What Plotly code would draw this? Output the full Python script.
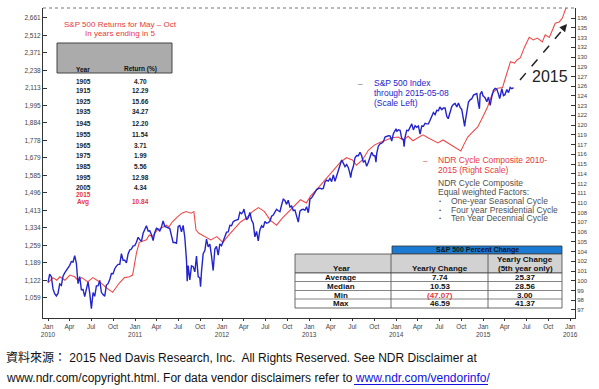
import plotly.graph_objects as go

# ---------------- DATA ----------------
spx_dates = [
"2010-01-01","2010-01-08","2010-01-15","2010-01-22","2010-01-29","2010-02-05","2010-02-12","2010-02-19","2010-02-26",
"2010-03-05","2010-03-12","2010-03-19","2010-03-26","2010-04-02","2010-04-09","2010-04-16","2010-04-23","2010-04-30",
"2010-05-07","2010-05-14","2010-05-21","2010-05-28","2010-06-04","2010-06-11","2010-06-18","2010-06-25","2010-07-02",
"2010-07-09","2010-07-16","2010-07-23","2010-07-30","2010-08-06","2010-08-13","2010-08-20","2010-08-27","2010-09-03",
"2010-09-10","2010-09-17","2010-09-24","2010-10-01","2010-10-08","2010-10-15","2010-10-22","2010-10-29","2010-11-05",
"2010-11-12","2010-11-19","2010-11-26","2010-12-03","2010-12-10","2010-12-17","2010-12-24","2010-12-31",
"2011-01-07","2011-01-14","2011-01-21","2011-01-28","2011-02-04","2011-02-11","2011-02-18","2011-02-25","2011-03-04",
"2011-03-11","2011-03-18","2011-03-25","2011-04-01","2011-04-08","2011-04-15","2011-04-22","2011-04-29","2011-05-06",
"2011-05-13","2011-05-20","2011-05-27","2011-06-03","2011-06-10","2011-06-17","2011-06-24","2011-07-01","2011-07-08",
"2011-07-15","2011-07-22","2011-07-29","2011-08-05","2011-08-08","2011-08-12","2011-08-19","2011-08-26","2011-09-02",
"2011-09-09","2011-09-16","2011-09-23","2011-09-30","2011-10-03","2011-10-07","2011-10-14","2011-10-21","2011-10-28",
"2011-11-04","2011-11-11","2011-11-18","2011-11-25","2011-12-02","2011-12-09","2011-12-16","2011-12-23","2011-12-30",
"2012-01-06","2012-01-13","2012-01-20","2012-01-27","2012-02-03","2012-02-10","2012-02-17","2012-02-24","2012-03-02",
"2012-03-09","2012-03-16","2012-03-23","2012-03-30","2012-04-02","2012-04-06","2012-04-13","2012-04-20","2012-04-27",
"2012-05-04","2012-05-11","2012-05-18","2012-05-25","2012-06-01","2012-06-08","2012-06-15","2012-06-22","2012-06-29",
"2012-07-06","2012-07-13","2012-07-20","2012-07-27","2012-08-03","2012-08-10","2012-08-17","2012-08-24","2012-08-31",
"2012-09-07","2012-09-14","2012-09-21","2012-09-28","2012-10-05","2012-10-12","2012-10-19","2012-10-26","2012-11-02",
"2012-11-09","2012-11-16","2012-11-23","2012-11-30","2012-12-07","2012-12-14","2012-12-21","2012-12-28","2012-12-31",
"2013-01-04","2013-01-11","2013-01-18","2013-01-25","2013-02-01","2013-02-08","2013-02-15","2013-02-22","2013-03-01",
"2013-03-08","2013-03-15","2013-03-22","2013-03-29","2013-04-05","2013-04-12","2013-04-19","2013-04-26","2013-05-03",
"2013-05-10","2013-05-17","2013-05-24","2013-05-31","2013-06-07","2013-06-14","2013-06-21","2013-06-24","2013-06-28",
"2013-07-05","2013-07-12","2013-07-19","2013-07-26","2013-08-02","2013-08-09","2013-08-16","2013-08-23","2013-08-30",
"2013-09-06","2013-09-13","2013-09-20","2013-09-27","2013-10-04","2013-10-08","2013-10-11","2013-10-18","2013-10-25",
"2013-11-01","2013-11-08","2013-11-15","2013-11-22","2013-11-29","2013-12-06","2013-12-13","2013-12-20","2013-12-27",
"2013-12-31",
"2014-01-03","2014-01-10","2014-01-17","2014-01-24","2014-01-31","2014-02-03","2014-02-07","2014-02-14","2014-02-21",
"2014-02-28","2014-03-07","2014-03-14","2014-03-21","2014-03-28","2014-04-04","2014-04-11","2014-04-18","2014-04-25",
"2014-05-02","2014-05-09","2014-05-16","2014-05-23","2014-05-30","2014-06-06","2014-06-13","2014-06-20","2014-06-27",
"2014-07-03","2014-07-11","2014-07-18","2014-07-25","2014-08-01","2014-08-07","2014-08-15","2014-08-22","2014-08-29",
"2014-09-05","2014-09-12","2014-09-19","2014-09-26","2014-10-03","2014-10-10","2014-10-15","2014-10-17","2014-10-24",
"2014-10-31","2014-11-07","2014-11-14","2014-11-21","2014-11-28","2014-12-05","2014-12-12","2014-12-16","2014-12-19",
"2014-12-26","2014-12-31",
"2015-01-02","2015-01-09","2015-01-16","2015-01-23","2015-01-30","2015-02-06","2015-02-13","2015-02-20","2015-02-27",
"2015-03-06","2015-03-11","2015-03-13","2015-03-20","2015-03-27","2015-04-02","2015-04-10","2015-04-17","2015-04-24",
"2015-05-01","2015-05-08"]
spx_values = [
1115,1145,1136,1091,1074,1066,1075,1109,1104,
1138,1150,1160,1167,1179,1194,1192,1217,1187,
1110,1136,1088,1089,1064,1092,1117,1076,1022,
1078,1065,1102,1102,1122,1079,1071,1065,1105,
1110,1125,1148,1147,1166,1176,1183,1183,1225,
1199,1199,1189,1224,1240,1244,1257,1258,
1272,1293,1283,1276,1310,1329,1343,1320,1321,
1304,1279,1314,1332,1328,1320,1337,1364,1340,
1338,1333,1331,1300,1271,1271,1268,1340,1344,
1316,1345,1292,1199,1119,1178,1124,1177,1174,
1154,1216,1136,1131,1099,1155,1225,1238,1285,
1253,1264,1216,1159,1244,1255,1219,1265,1258,
1278,1289,1315,1316,1345,1343,1361,1366,1370,
1371,1404,1397,1408,1419,1398,1370,1378,1403,
1369,1353,1295,1318,1278,1325,1343,1335,1362,
1354,1357,1363,1386,1391,1405,1418,1411,1407,
1438,1466,1460,1441,1461,1429,1433,1412,1414,
1380,1359,1409,1416,1418,1413,1430,1402,1426,
1466,1472,1486,1503,1513,1518,1520,1516,1518,
1551,1561,1556,1569,1553,1588,1555,1582,1614,
1634,1667,1650,1631,1643,1626,1593,1573,1606,
1632,1680,1692,1691,1710,1691,1655,1664,1633,
1655,1688,1710,1692,1690,1656,1703,1745,1759,
1762,1771,1798,1804,1806,1805,1775,1818,1841,
1848,
1831,1842,1839,1790,1783,1742,1797,1838,1836,
1859,1878,1841,1866,1857,1865,1815,1864,1863,
1881,1878,1878,1900,1924,1949,1936,1963,1961,
1985,1968,1978,1978,1925,1910,1955,1988,2003,
2008,1985,2011,1983,1968,1906,1862,1887,1965,
2018,2032,2040,2064,2068,2075,2003,1973,2071,
2089,2059,
2058,2045,2019,2051,1995,2055,2097,2110,2104,
2071,2040,2053,2108,2061,2067,2102,2081,2117,
2108,2116]

ndr_dates = [
"2010-01-01","2010-01-22","2010-02-07","2010-02-20","2010-03-13","2010-04-03","2010-04-23","2010-05-06","2010-05-23",
"2010-06-17","2010-07-08","2010-08-06","2010-09-04","2010-09-29","2010-10-28","2010-11-18","2010-12-09","2010-12-22",
"2011-01-07","2011-01-19","2011-02-18","2011-03-02","2011-03-15","2011-04-04","2011-04-25","2011-05-12","2011-05-24",
"2011-06-06","2011-06-27","2011-07-17","2011-08-03","2011-08-24","2011-09-05","2011-09-14","2011-09-26","2011-10-17",
"2011-11-15","2011-12-10","2012-01-05","2012-01-30","2012-02-24","2012-03-19","2012-04-13","2012-05-08","2012-06-02",
"2012-06-27","2012-07-22","2012-08-17","2012-09-11","2012-10-06","2012-10-31","2012-11-25","2012-12-20","2013-01-07",
"2013-02-01","2013-02-26","2013-03-23","2013-04-17","2013-05-12","2013-06-06","2013-07-01","2013-07-18","2013-08-12",
"2013-09-06","2013-10-01","2013-10-26","2013-11-20","2013-12-15","2014-01-09","2014-01-30","2014-02-20","2014-03-12",
"2014-04-02","2014-04-23","2014-05-14","2014-06-04","2014-06-25","2014-07-16","2014-08-06","2014-08-27","2014-09-17",
"2014-09-29","2014-10-12","2014-10-28","2014-11-18","2014-12-09","2014-12-30","2015-01-19","2015-02-09","2015-03-02",
"2015-03-23","2015-04-09","2015-04-25","2015-05-12","2015-05-24","2015-06-06","2015-06-23","2015-07-13","2015-07-30",
"2015-08-16","2015-09-06","2015-09-18","2015-10-05","2015-10-18","2015-10-30","2015-11-16","2015-11-29","2015-12-11",
"2015-12-28"]
ndr_values = [
100.1,100.7,100.4,100.8,100.4,101.0,100.8,100.4,100.7,
100.2,100.7,100.2,99.5,99.0,100.1,100.7,100.8,101.0,
103.6,104.9,105.2,105.8,105.6,106.4,106.7,107.0,106.8,
107.4,108.0,108.5,108.7,108.5,108.7,106.4,106.0,105.7,
105.2,105.6,104.9,105.8,106.6,107.4,107.9,108.7,109.2,
108.7,107.6,107.0,107.9,108.7,109.5,110.2,109.8,110.7,
111.5,112.4,113.4,114.3,115.1,115.7,115.4,114.7,115.4,
116.7,117.4,117.8,118.1,118.4,118.5,118.1,118.6,118.0,
118.4,118.8,118.4,118.0,117.7,118.1,117.7,117.3,116.9,
116.6,117.5,118.5,119.2,119.9,121.3,122.7,124.7,125.4,
125.5,127.3,129.3,129.1,129.6,129.9,131.5,133.0,132.6,
132.9,132.3,133.4,133.0,134.1,135.2,135.4,136.0,137.3,
138.5]

left_tick_labels = ["1,059","1,122","1,189","1,259","1,334","1,413","1,496","1,585","1,679",
                    "1,778","1,884","1,995","2,113","2,238","2,371","2,512","2,661"]
left_tick_values = [1059,1122,1189,1259,1334,1413,1496,1585,1679,1778,1884,1995,2113,2238,2371,2512,2661]
right_tick_labels = ["97","98","99","100","101","102","104","105","106","107","108","110","111","112","114",
                     "115","116","117","119","120","122","123","124","126","127","129","130","132","133","135","136"]

x_tick_dates = ["2010-01-01","2010-04-01","2010-07-01","2010-10-01","2011-01-01","2011-04-01","2011-07-01","2011-10-01",
                "2012-01-01","2012-04-01","2012-07-01","2012-10-01","2013-01-01","2013-04-01","2013-07-01","2013-10-01",
                "2014-01-01","2014-04-01","2014-07-01","2014-10-01","2015-01-01","2015-04-01","2015-07-01","2015-10-01",
                "2016-01-01"]
x_tick_labels = ["Jan<br>2010","Apr","Jul","Oct","Jan<br>2011","Apr","Jul","Oct","Jan<br>2012","Apr","Jul","Oct",
                 "Jan<br>2013","Apr","Jul","Oct","Jan<br>2014","Apr","Jul","Oct","Jan<br>2015","Apr","Jul","Oct",
                 "Jan<br>2016"]

may_oct_years = ["1905","1915","1925","1935","1945","1955","1965","1975","1985","1995","2005"]
may_oct_returns = ["4.70","12.29","15.66","34.27","12.20","11.54","3.71","1.99","5.56","12.98","4.34"]
avg_return = "10.84"

stat_names = ["Average","Median","Min","Max"]
stat_yearly = ["7.74","10.53","(47.07)","46.59"]
stat_fifth = ["25.37","28.56","3.00","41.37"]

# ---------------- LAYOUT HELPERS (pixel -> paper) ----------------
L, R, T, B = 43, 575, 8, 318
def PX(x): return (x - L) / (R - L)
def PY(y): return (B - y) / (B - T)

FONT = "Arial, Liberation Sans, sans-serif"
RED = "#e8383c"
BLUE = "#2424cc"
GRAY = "#505050"

right_tick_vals = [97 * (136 / 97) ** (k / 30) for k in range(31)]

fig = go.Figure()
fig.add_trace(go.Scatter(x=ndr_dates, y=ndr_values, yaxis="y", mode="lines",
                         line=dict(color="#ee4a4a", width=1.1), hoverinfo="skip", showlegend=False))
fig.add_trace(go.Scatter(x=spx_dates, y=spx_values, yaxis="y2", mode="lines",
                         line=dict(color=BLUE, width=1.4), hoverinfo="skip", showlegend=False))

anns = []
shapes = []
def txt(x, y, s, size=7, color="#222", anchor="center", bold=False, family=FONT):
    anns.append(dict(x=PX(x), y=PY(y), xref="paper", yref="paper", text=("<b>%s</b>" % s) if bold else s,
                     showarrow=False, xanchor=anchor, yanchor="middle",
                     font=dict(size=size, color=color, family=family)))
def rect(x0, y0, x1, y1, fill, line="#555", w=0.8):
    shapes.append(dict(type="rect", xref="paper", yref="paper", x0=PX(x0), x1=PX(x1), y0=PY(y1), y1=PY(y0),
                       fillcolor=fill, line=dict(color=line, width=w), layer="above"))
def hline(x0, x1, y, color="#555", w=0.8, dash="solid"):
    shapes.append(dict(type="line", xref="paper", yref="paper", x0=PX(x0), x1=PX(x1), y0=PY(y), y1=PY(y),
                       line=dict(color=color, width=w, dash=dash), layer="above"))
def vline(x, y0, y1, color="#555", w=0.8):
    shapes.append(dict(type="line", xref="paper", yref="paper", x0=PX(x), x1=PX(x), y0=PY(y0), y1=PY(y1),
                       line=dict(color=color, width=w), layer="above"))

# top dotted border
hline(L, R, T, color="#777", w=1, dash="dot")

# ---- top-left table ----
txt(120, 24, "S&P 500 Returns for May \u2013 Oct", size=8, color=RED)
txt(120, 33, "In years ending in 5", size=8, color=RED)
rect(57, 43, 172, 73, "#ababab", line="#444", w=1)
txt(83, 69, "Year", size=6.5, color="#111", bold=True)
txt(140, 69, "Return (%)", size=6.5, color="#111", bold=True)
row_y = [81, 91, 101, 112, 123, 134, 145, 155, 166, 177, 187]
for yy, yr, rv in zip(row_y, may_oct_years, may_oct_returns):
    txt(83, yy, yr, size=6.5, color="#222", bold=True)
    txt(140, yy, rv, size=6.5, color="#222", bold=True)
txt(83, 194.5, "2015", size=6.5, color=RED, bold=True)
txt(83, 202, "Avg", size=6.5, color=RED, bold=True)
txt(140, 202, avg_return, size=6.5, color=RED, bold=True)

# ---- legend texts ----
txt(360, 83, "\u2013", size=8, color="#555")
txt(372, 83, "S&P 500 Index", size=8.5, color=BLUE, anchor="left")
txt(372, 93, "through 2015-05-08", size=8.5, color=BLUE, anchor="left")
txt(372, 103, "(Scale Left)", size=8.5, color=BLUE, anchor="left")
txt(425, 160, "\u2013", size=8, color=RED)
txt(436, 160, "NDR Cycle Composite 2010-", size=8.5, color=RED, anchor="left")
txt(436, 169.5, "2015 (Right Scale)", size=8.5, color=RED, anchor="left")
txt(436, 183, "NDR Cycle Composite", size=8.5, color=GRAY, anchor="left")
txt(436, 192, "Equal weighted Factors:", size=8.5, color=GRAY, anchor="left")
for yy, s in zip([201, 209.5, 218], ["One-year Seasonal Cycle", "Four year Presidential Cycle", "Ten Year Decennial Cycle"]):
    txt(440, yy, "\u2022", size=6, color=GRAY)
    txt(449, yy, s, size=8.5, color=GRAY, anchor="left")

# ---- 2015 annotation with dashed arrow ----
txt(550, 76, "2015", size=16, color="#222")
shapes.append(dict(type="line", xref="paper", yref="paper", x0=PX(520), y0=PY(80), x1=PX(565), y1=PY(27),
                   line=dict(color="#222", width=1.5, dash="dash"), layer="above"))
anns.append(dict(x=PX(567), y=PY(24), xref="paper", yref="paper", ax=-5, ay=6, text="", showarrow=True,
                 arrowhead=2, arrowsize=1, arrowwidth=1.5, arrowcolor="#222"))

# ---- bottom-right table ----
rect(392, 246, 562, 254, "#1b7bd3", line="#333")
txt(477, 250, "S&P 500 Percent Change", size=7, color="#111", bold=True)
rect(295, 254, 562, 273, "#d2d2d2", line="#444")
rect(295, 273, 562, 308, "#ffffff", line="#444")
vline(391, 254, 308, "#444")
vline(488, 254, 308, "#444")
for yy in [281.5, 290.5, 299]:
    hline(295, 562, yy, "#666")
txt(341, 268, "Year", size=8, color="#111", bold=True)
txt(440, 268, "Yearly Change", size=8, color="#111", bold=True)
txt(525, 259, "Yearly Change", size=8, color="#111", bold=True)
txt(525, 268, "(5th year only)", size=8, color="#111", bold=True)
for yy, n, a, b in zip([277, 286, 295, 303.5], stat_names, stat_yearly, stat_fifth):
    txt(341, yy, n, size=8, color="#111", bold=True)
    txt(440, yy, a, size=8, color=(RED if a.startswith("(") else "#111"), bold=True)
    txt(525, yy, b, size=8, color="#111", bold=True)

# ---- source text ----
anns.append(dict(x=PX(4), y=PY(358), xref="paper", yref="paper", xanchor="left", yanchor="middle", showarrow=False,
                 text="\u8cc7\u6599\u4f86\u6e90\uff1a 2015 Ned Davis Research, Inc.  All Rights Reserved. See NDR Disclaimer at",
                 font=dict(size=12, color="#111", family="Arial, Liberation Sans, Noto Sans CJK TC, sans-serif")))
anns.append(dict(x=PX(4), y=PY(378), xref="paper", yref="paper", xanchor="left", yanchor="middle", showarrow=False,
                 text="www.ndr.com/copyright.html. For data vendor disclaimers refer to <span style='color:#1010dd'>www.ndr.com/vendorinfo/</span>",
                 font=dict(size=12, color="#111", family="Arial, Liberation Sans, sans-serif")))
hline(354, 488, 384.5, color="#1010dd", w=1)

tickfont = dict(size=6.5, color="#444", family=FONT)
fig.update_layout(
    width=599, height=389,
    margin=dict(l=L, r=599 - R, t=T, b=389 - B),
    paper_bgcolor="white", plot_bgcolor="white",
    showlegend=False,
    xaxis=dict(type="date", range=["2009-12-11", "2016-01-21"], tickvals=x_tick_dates, ticktext=x_tick_labels,
               ticks="outside", ticklen=2, tickcolor="#333", showline=True, linecolor="#333", linewidth=1,
               showgrid=False, zeroline=False, tickfont=tickfont, tickangle=0),
    yaxis=dict(type="log", range=[1.98272, 2.13862], side="right", tickvals=right_tick_vals, ticktext=right_tick_labels,
               ticks="inside", ticklen=4, tickcolor="#333", showline=True, linecolor="#333", linewidth=1,
               showgrid=False, zeroline=False, tickfont=dict(size=6, color="#444", family=FONT)),
    yaxis2=dict(type="log", range=[2.9963, 3.4392], side="left", overlaying="y", tickvals=left_tick_values,
                ticktext=left_tick_labels, ticks="inside", ticklen=4, tickcolor="#333", showline=True,
                linecolor="#333", linewidth=1, showgrid=False, zeroline=False, tickfont=tickfont),
    annotations=anns, shapes=shapes,
)
fig.write_html("out.html", config={"displayModeBar": False},
               post_script="document.body.style.margin='0';document.body.style.overflow='hidden';")
